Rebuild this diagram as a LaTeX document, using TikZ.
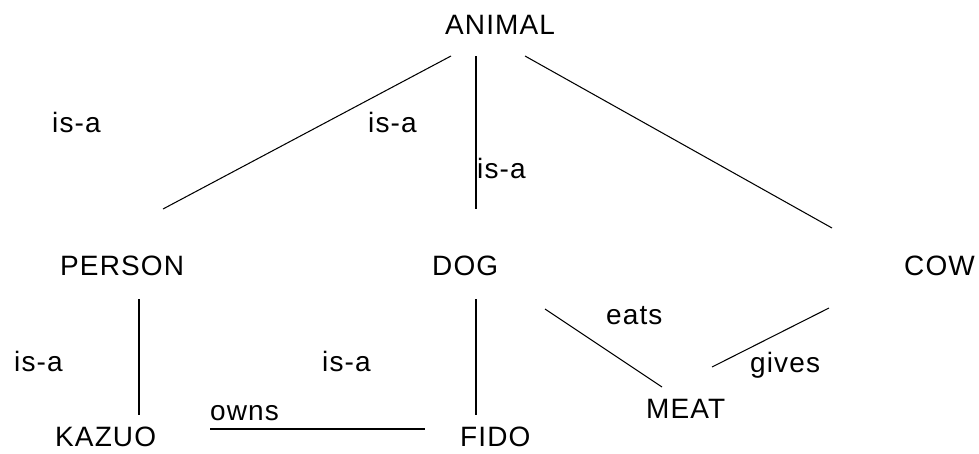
\documentclass[tikz,border=0pt]{standalone}
\usepackage{fontspec}
\setmainfont[LetterSpace=4]{Liberation Sans}
\begin{document}
\begin{tikzpicture}[x=1pt,y=-1pt,
  concept/.style={anchor=base west,inner sep=0pt,font=\fontsize{28}{30}\selectfont},
  rel/.style={concept},
  link/.style={line width=1.05pt,black}]
\useasboundingbox (0,0) rectangle (979,453);

% concepts
\node[concept] (animal) at (445,34)  {ANIMAL};
\node[concept] (person) at (60,275)  {PERSON};
\node[concept] (dog)    at (432,275) {DOG};
\node[concept] (cow)    at (904,275) {COW};
\node[concept] (kazuo)  at (55,446)  {KAZUO};
\node[concept] (fido)   at (460,446) {FIDO};
\node[concept] (meat)   at (646,418) {MEAT};

% relation labels
\node[rel] (isaA) at (52,132)  {is-a};
\node[rel] (isaB) at (368,132) {is-a};
\node[rel] (isaC) at (477,178) {is-a};
\node[rel] (isaD) at (14,371)  {is-a};
\node[rel] (isaE) at (322,371) {is-a};
\node[rel] (owns) at (210,420) {owns};
\node[rel] (eats) at (606,324) {eats};
\node[rel] (gives) at (750,372) {gives};

% connector end points
\coordinate (aP) at (451,56);  \coordinate (pA) at (163,209);
\coordinate (aD) at (476,56);  \coordinate (dA) at (476,209);
\coordinate (aC) at (525,56);  \coordinate (cA) at (832,228);
\coordinate (pK) at (139,299); \coordinate (kP) at (139,415);
\coordinate (dF) at (476,299); \coordinate (fD) at (476,415);
\coordinate (kF) at (210,429); \coordinate (fK) at (425,429);
\coordinate (dM) at (545,309); \coordinate (mD) at (662,387);
\coordinate (cM) at (829,308); \coordinate (mC) at (712,367);

% connectors
\draw[link] (aP) -- (pA);
\draw[link] (aD) -- (dA);
\draw[link] (aC) -- (cA);
\draw[link] (pK) -- (kP);
\draw[link] (dF) -- (fD);
\draw[link] (kF) -- (fK);
\draw[link] (dM) -- (mD);
\draw[link] (cM) -- (mC);
\end{tikzpicture}
\end{document}
